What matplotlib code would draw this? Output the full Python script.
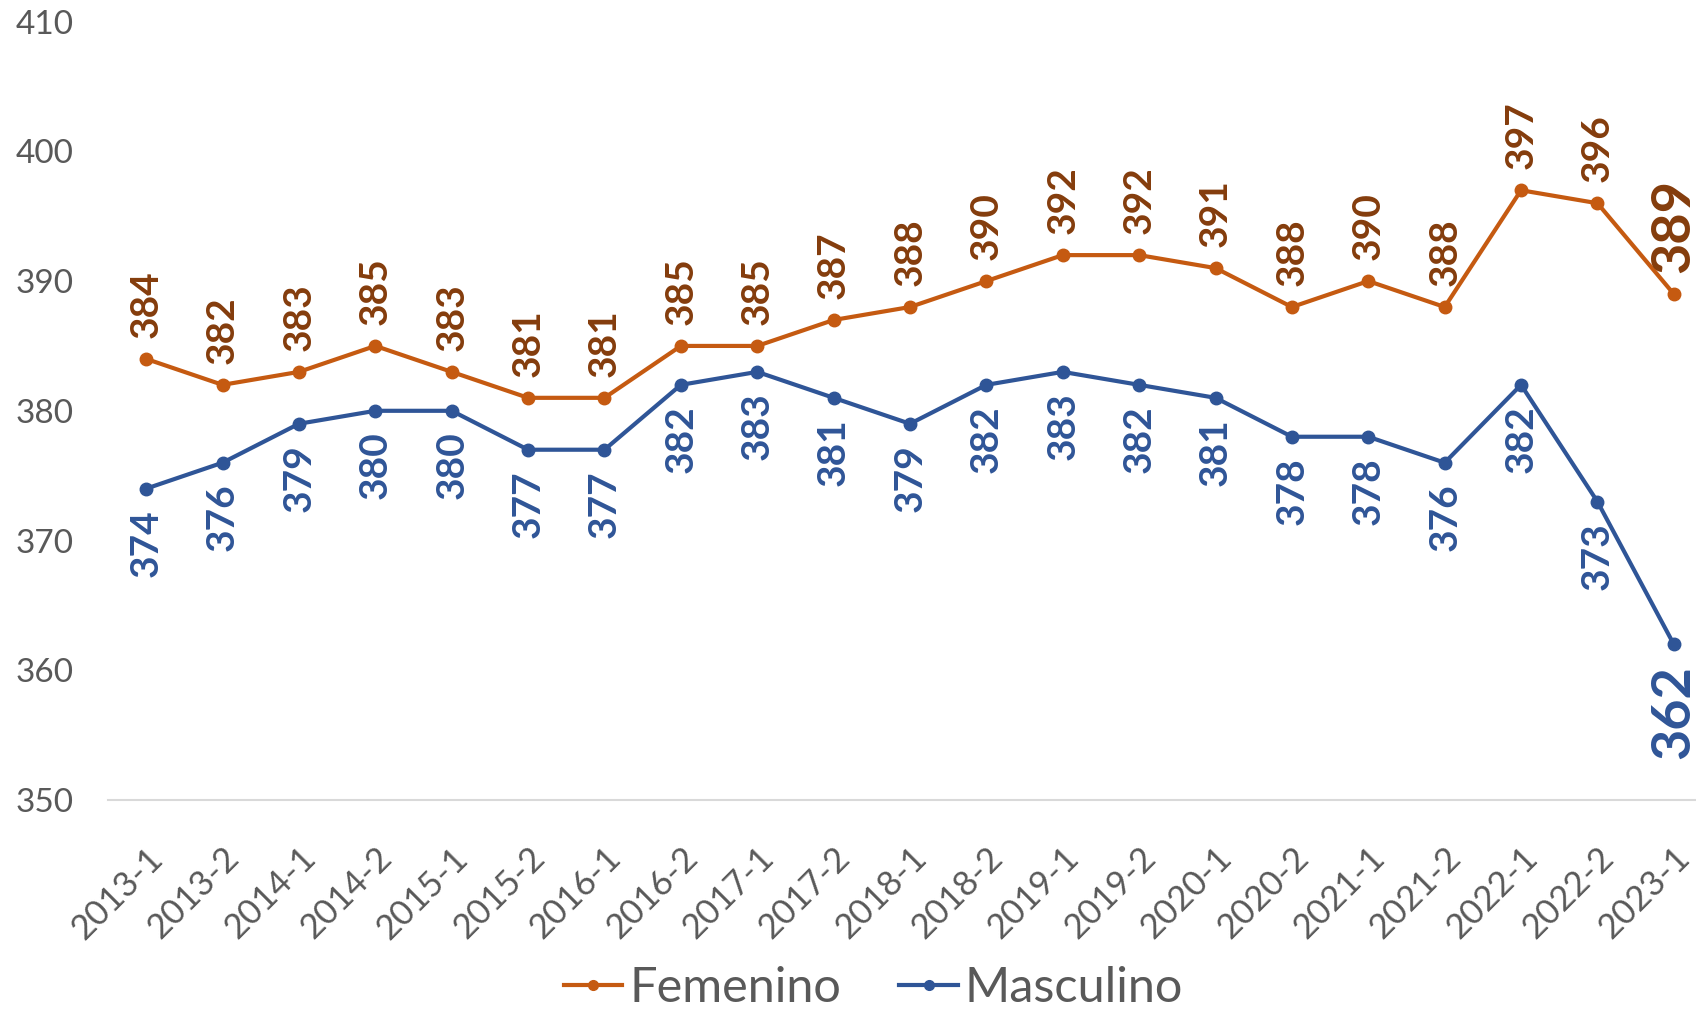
import matplotlib
matplotlib.use("Agg")
import matplotlib.pyplot as plt
from matplotlib.lines import Line2D

periods = ["2013-1", "2013-2", "2014-1", "2014-2", "2015-1", "2015-2", "2016-1",
           "2016-2", "2017-1", "2017-2", "2018-1", "2018-2", "2019-1", "2019-2",
           "2020-1", "2020-2", "2021-1", "2021-2", "2022-1", "2022-2", "2023-1"]
femenino = [384, 382, 383, 385, 383, 381, 381, 385, 385, 387, 388, 390, 392, 392,
            391, 388, 390, 388, 397, 396, 389]
masculino = [374, 376, 379, 380, 380, 377, 377, 382, 383, 381, 379, 382, 383, 382,
             381, 378, 378, 376, 382, 373, 362]
yticks = [350, 360, 370, 380, 390, 400, 410]

plt.rcParams['font.family'] = ['Lato', 'DejaVu Sans']

W, H = 1696, 1013
fig = plt.figure(figsize=(W / 100, H / 100), dpi=100)
fig.patch.set_facecolor('white')
ax = fig.add_axes([108 / W, (H - 800) / H, (1712 - 108) / W, (800 - 21.6) / H])
ax.set_facecolor('none')

c_f_line, c_f_lab = '#C55A11', '#843C0C'
c_m_line, c_m_lab = '#2F5597', '#2F5597'

x = list(range(len(periods)))
ax.plot(x, femenino, color=c_f_line, lw=3, marker='o', ms=9, zorder=3)
ax.plot(x, masculino, color=c_m_line, lw=3, marker='o', ms=9, zorder=3)

n = len(periods)
for i, v in enumerate(femenino):
    last = i == n - 1
    ax.annotate(str(v), (i, v), xytext=(0, 15), textcoords='offset points',
                rotation=90, ha='center', va='bottom', color=c_f_lab,
                fontsize=39 if last else 28, fontweight='bold', zorder=4,
                annotation_clip=False)
for i, v in enumerate(masculino):
    last = i == n - 1
    ax.annotate(str(v), (i, v), xytext=(0, -15), textcoords='offset points',
                rotation=90, ha='center', va='top', color=c_m_lab,
                fontsize=39 if last else 28, fontweight='bold', zorder=4,
                annotation_clip=False)

ax.set_xlim(-0.5, n - 0.5)
ax.set_ylim(350, 410)
ax.set_yticks(yticks)
ax.set_yticklabels([str(t) for t in yticks], fontsize=24, color='#595959')
ax.set_xticks(x)
ax.set_xticklabels(periods, rotation=45, ha='right', rotation_mode='anchor',
                   fontsize=25, color='#595959')
ax.tick_params(axis='both', length=0)
ax.tick_params(axis='y', pad=25)
ax.tick_params(axis='x', pad=30)
for s in ['top', 'right', 'left']:
    ax.spines[s].set_visible(False)
ax.spines['bottom'].set_color('#D9D9D9')
ax.spines['bottom'].set_linewidth(1.5)

handles = [Line2D([0], [0], color=c_f_line, lw=3, marker='o', ms=7),
           Line2D([0], [0], color=c_m_line, lw=3, marker='o', ms=7)]
fig.legend(handles, ['Femenino', 'Masculino'], loc='center',
           bbox_to_anchor=(0.515, (H - 988) / H), ncol=2, frameon=False,
           fontsize=35, labelcolor='#595959', handlelength=1.2,
           handletextpad=0.15, columnspacing=1.2)

fig.savefig('out.png', dpi=100)
